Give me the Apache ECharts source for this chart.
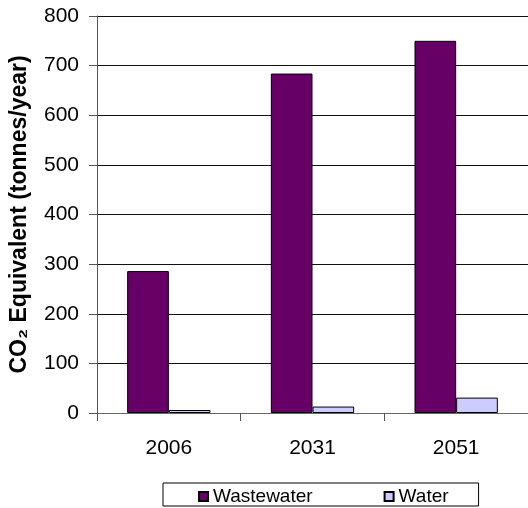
<!DOCTYPE html>
<html>
<head>
<meta charset="utf-8">
<script src="https://cdn.jsdelivr.net/npm/echarts@6/dist/echarts.min.js"></script>
<style>html,body{margin:0;padding:0;background:#fff}#c{width:528px;height:508px}</style>
</head>
<body>
<div id="c"></div>
<script>
const categories = ['2006', '2031', '2051'];
const wastewater = [286, 684, 750];
const water = [6, 13, 31];
const seriesNames = ['Wastewater', 'Water'];
const yTitle = 'CO\u2082 Equivalent (tonnes/year)';

const chart = echarts.init(document.getElementById('c'), null, {renderer: 'canvas'});
const font = 'Liberation Sans, Arial, sans-serif';
chart.setOption({
  animation: false,
  backgroundColor: '#fff',
  textStyle: {fontFamily: font},
  grid: {left: 96, right: -3, top: 16, bottom: 95, containLabel: false},
  legend: {
    left: 163, top: 483,
    orient: 'horizontal',
    icon: 'rect', itemWidth: 9, itemHeight: 9, itemGap: 71,
    padding: [4, 30, 0, 35],
    borderColor: '#000', borderWidth: 1,
    textStyle: {fontFamily: font, fontSize: 19, color: '#000', lineHeight: 19},
    data: seriesNames
  },
  xAxis: {
    type: 'category', data: categories,
    axisLine: {lineStyle: {color: '#666', width: 1}},
    axisTick: {show: true, length: 8, inside: false, lineStyle: {color: '#555'}},
    axisLabel: {fontFamily: font, fontSize: 21, color: '#000', margin: 25}
  },
  yAxis: {
    type: 'value', min: 0, max: 800, interval: 100,
    name: yTitle, nameLocation: 'middle', nameGap: 66, nameRotate: 90,
    nameTextStyle: {fontFamily: font, fontSize: 23, fontWeight: 'bold', color: '#000'},
    axisLine: {show: true, lineStyle: {color: '#555', width: 1}},
    axisTick: {show: true, length: 8, lineStyle: {color: '#555'}},
    axisLabel: {fontFamily: font, fontSize: 21, color: '#000', margin: 18},
    splitLine: {show: true, lineStyle: {color: '#111', width: 1}}
  },
  series: [
    {name: seriesNames[0], type: 'bar', data: wastewater, barGap: '0%', barCategoryGap: '42%',
     itemStyle: {color: '#660066', borderColor: '#000', borderWidth: 1}},
    {name: seriesNames[1], type: 'bar', data: water, barGap: '0%', barCategoryGap: '42%',
     itemStyle: {color: '#CCCCFF', borderColor: '#000', borderWidth: 1}}
  ]
});
</script>
</body>
</html>
